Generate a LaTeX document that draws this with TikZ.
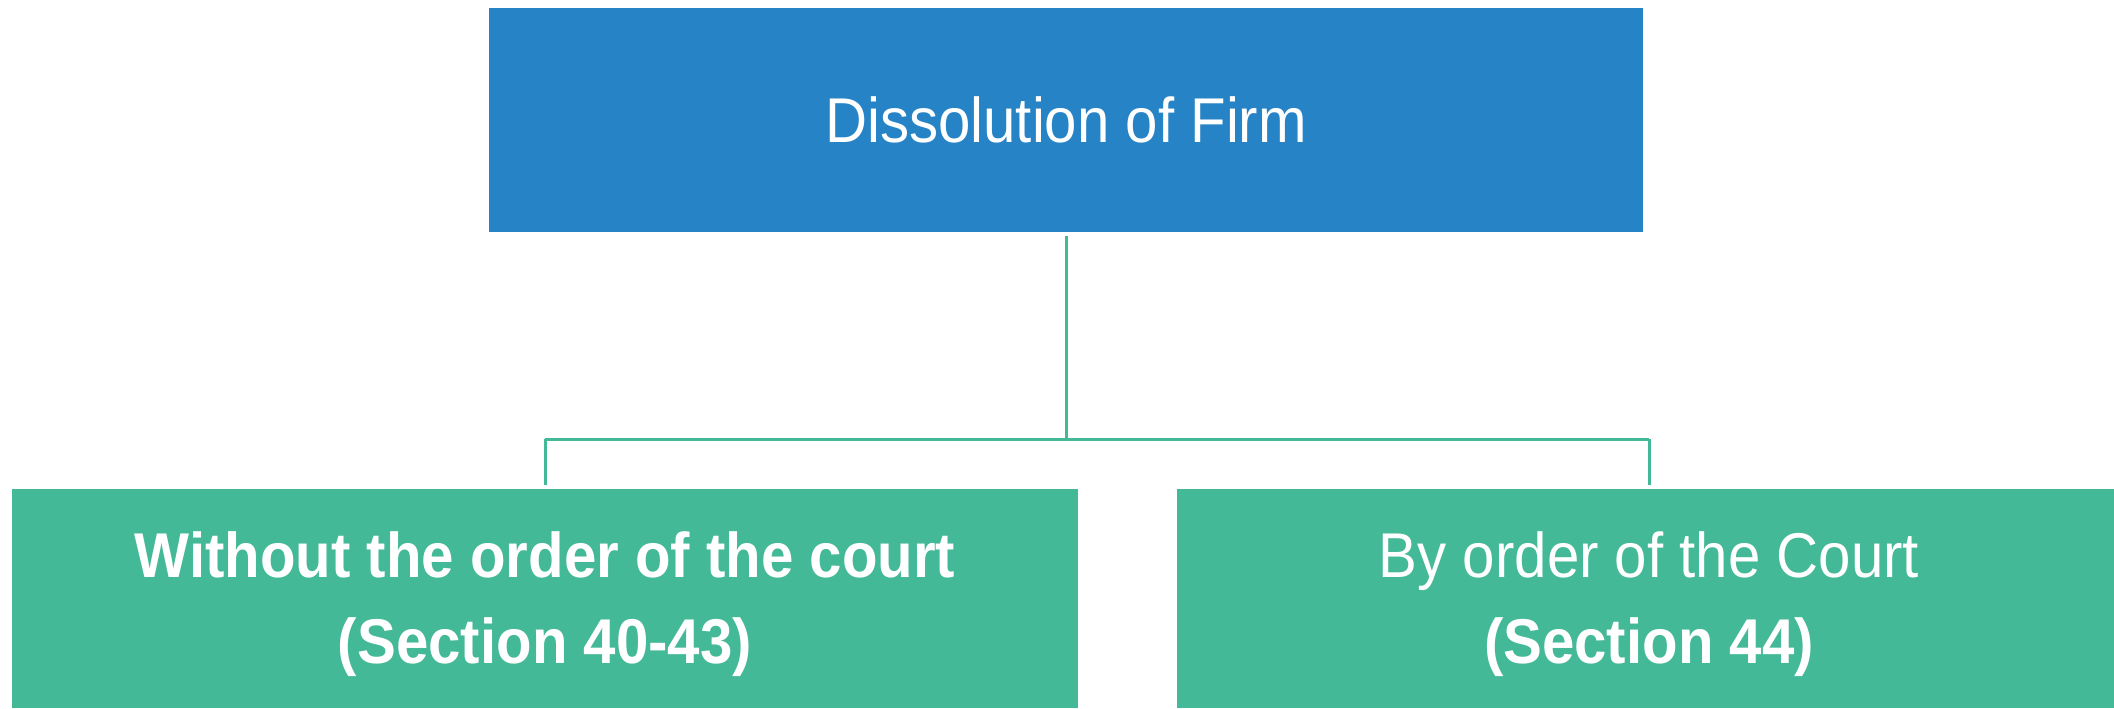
\documentclass[tikz,border=0pt]{standalone}
\usepackage{fontspec}
\setmainfont{Liberation Sans}[FakeStretch=0.92]
\usepackage{xcolor}
\usepackage{tikz}
\usetikzlibrary{positioning,calc}
\definecolor{firmblue}{HTML}{2683C6}
\definecolor{courtgreen}{HTML}{44B997}
\newcommand{\waystrut}{\rule{0pt}{33pt}}

\begin{document}
\begin{tikzpicture}[
  font=\fontsize{36}{49}\selectfont,
  box/.style={rectangle, inner sep=0pt, outer sep=0pt, text=white, align=center},
  waybox/.style={box, fill=courtgreen, minimum height=4.38cm},
  link/.style={draw=courtgreen, line width=0.06cm}
]
\useasboundingbox (0,0) rectangle (42.28,14.16);
% top box
\node[box, fill=firmblue, minimum width=23.08cm, minimum height=4.48cm] (firm) at (21.32,11.76) {Dissolution of Firm};
% the two ways
\node[waybox, minimum width=21.32cm] (nocourt) at (10.9,2.19)
  {\waystrut\textbf{Without the order of the court}\\\textbf{(Section 40-43)}};
\node[waybox, minimum width=18.88cm] (bycourt) at (32.98,2.19)
  {\waystrut By order of the Court\\\textbf{(Section 44)}};
% connectors
\coordinate (split) at (21.32,5.38);
\draw[link, shorten <=0.08cm] (firm.south) -- (split);
\draw[link] (split -| nocourt.north) -- (split -| bycourt.north);
\draw[link, shorten >=0.08cm] (split -| nocourt.north) -- (nocourt.north);
\draw[link, shorten >=0.08cm] (split -| bycourt.north) -- (bycourt.north);
\end{tikzpicture}
\end{document}
